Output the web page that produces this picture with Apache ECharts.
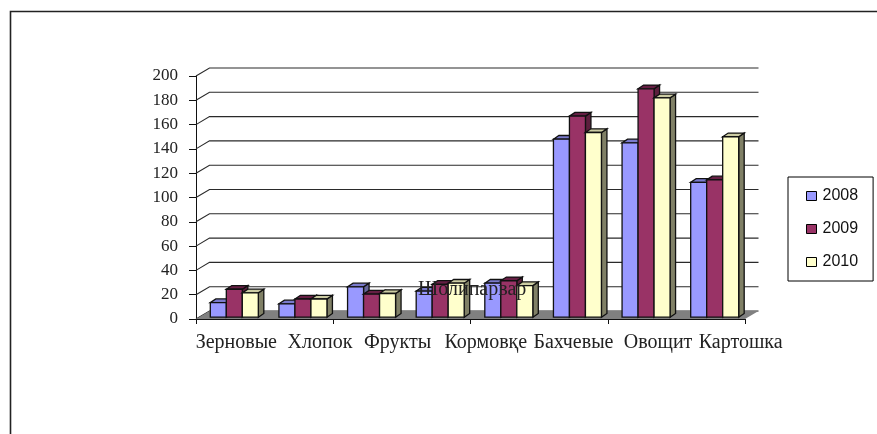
<!DOCTYPE html>
<html><head><meta charset="utf-8">
<style>html,body{margin:0;padding:0;background:#fff}#c{width:877px;height:434px}</style>
<script src="https://cdn.jsdelivr.net/npm/echarts@6/dist/echarts.min.js"></script>
</head><body><div id="c"></div>
<script>
const categories = ['Зерновые','Хлопок','Фрукты','Шолипарвар','Кормовқе','Бахчевые','Овощит','Картошка'];
const years = ['2008','2009','2010'];
const values2008 = [12,11,25,21.5,28,146.5,143.5,111];
const values2009 = [23,15,19,27,30,165.5,188,113];
const values2010 = [20,15,19.5,28,26,152,180.5,148.5];
const yTicks = [0,20,40,60,80,100,120,140,160,180,200];

const seriesValues = [values2008, values2009, values2010];
const faces = [
  {front:'#9999FF', top:'#7A7ACC', side:'#666699'},
  {front:'#993366', top:'#661F44', side:'#5C1F3D'},
  {front:'#FFFFCC', top:'#CCCCA3', side:'#808066'}
];
const serif = '"Liberation Serif","Times New Roman",serif';
const wallDx = 13.5, wallDy = -8;
const barW = 16, barDx = 5.5, barDy = -3.7, baseDy = -1.8, groupShift = 4;
// label anchors are displaced from their category centres in the reference
const labelShift = [6, 21, 30, 36, -19, 0, 16, 30];
const labelDy = [24, 24, 24, -29, 24, 24, 24, 24];

const stroke = {stroke:'#111', lineWidth:1.3};

function renderWall(params, api){
  const p = api.coord([0, api.value(0)]);
  const y = p[1];
  const xa = api.coord([0,0])[0] - api.size([1,0])[0]/2;
  const xb = xa + api.size([1,0])[0]*categories.length;
  return {type:'polyline', silent:true,
    shape:{points:[[xa,y],[xa+wallDx,y+wallDy],[xb+wallDx,y+wallDy]]},
    style:{stroke:'#2a2a2a', lineWidth:1.1, fill:null}};
}
function renderFloor(params, api){
  const cw = api.size([1,0])[0];
  const o = api.coord([0,0]);
  const xa = o[0]-cw/2, xb = xa+cw*categories.length, y=o[1];
  return {type:'polygon', silent:true,
    shape:{points:[[xa,y],[xb,y],[xb+wallDx,y+wallDy],[xa+wallDx,y+wallDy]]},
    style:{fill:'#808080'}};
}
function makeBarRenderer(k){
  return function(params, api){
    const c = api.coord([api.value(0), api.value(1)]);
    const base = api.coord([api.value(0), 0])[1] + baseDy;
    const top = c[1] + baseDy;
    const x0 = c[0] + groupShift + (k-1.5)*barW;
    const x1 = x0 + barW;
    const f = faces[k];
    return {type:'group', children:[
      {type:'polygon', shape:{points:[[x1,top],[x1+barDx,top+barDy],[x1+barDx,base+barDy],[x1,base]]}, style:{fill:f.side, ...stroke}},
      {type:'polygon', shape:{points:[[x0,top],[x0+barDx,top+barDy],[x1+barDx,top+barDy],[x1,top]]}, style:{fill:f.top, ...stroke}},
      {type:'rect', shape:{x:x0,y:top,width:barW,height:base-top}, style:{fill:f.front, ...stroke}}
    ]};
  };
}
function renderLabel(params, api){
  const i = api.value(0);
  const c = api.coord([i,0]);
  return {type:'text', silent:true, z2:50,
    style:{x:c[0]+labelShift[i], y:c[1]+labelDy[i], text:categories[i],
      font:'20px '+serif, fill:'#222', align:'center', verticalAlign:'middle'}};
}

const chart = echarts.init(document.getElementById('c'), null, {renderer:'canvas'});
chart.setOption({
  animation:false,
  backgroundColor:'#fff',
  graphic:[
    {type:'polyline', silent:true, shape:{points:[[10.5,434],[10.5,11.5],[877,11.5]]}, style:{stroke:'#222', lineWidth:1.6, fill:null}}
  ],
  grid:{left:196, right:132, top:76, bottom:115},
  legend:{
    orient:'vertical', left:788, top:177, width:85,
    data:years, icon:'rect', itemWidth:10, itemHeight:9, itemGap:17,
    padding:[11,15,11,18], borderColor:'#000', borderWidth:1, backgroundColor:'#fff',
    itemStyle:{borderColor:'#000', borderWidth:1},
    textStyle:{fontFamily:'"Liberation Sans",Arial,sans-serif', fontSize:16, color:'#111', padding:[0,0,0,1], lineHeight:15}
  },
  xAxis:{type:'category', data:categories, boundaryGap:true,
    axisLine:{lineStyle:{color:'#111',width:1}},
    axisTick:{show:true, alignWithLabel:false, length:5, lineStyle:{color:'#111'}},
    axisLabel:{show:false}, splitLine:{show:false}},
  yAxis:{type:'value', min:0, max:200, interval:20,
    axisLine:{show:true, lineStyle:{color:'#111',width:1}},
    axisTick:{show:true, length:7, lineStyle:{color:'#111'}},
    axisLabel:{fontFamily:serif, fontSize:17, color:'#222', margin:18},
    splitLine:{show:false}},
  series:[
    {type:'custom', name:'wall', silent:true, z:1, data:yTicks.map(v=>[v]), renderItem:renderWall, encode:{y:0}, clip:false},
    {type:'custom', name:'floor', silent:true, z:2, data:[[0]], renderItem:renderFloor, clip:false},
    ...years.map((y,k)=>({type:'custom', name:y, z:3, clip:false,
      itemStyle:{color:faces[k].front},
      data:seriesValues[k].map((v,i)=>[i,v]), encode:{x:0,y:1}, renderItem:makeBarRenderer(k)})),
    {type:'custom', name:'labels', silent:true, z:5, clip:false,
      data:categories.map((c,i)=>[i]), renderItem:renderLabel, encode:{x:0}}
  ]
});
</script></body></html>
